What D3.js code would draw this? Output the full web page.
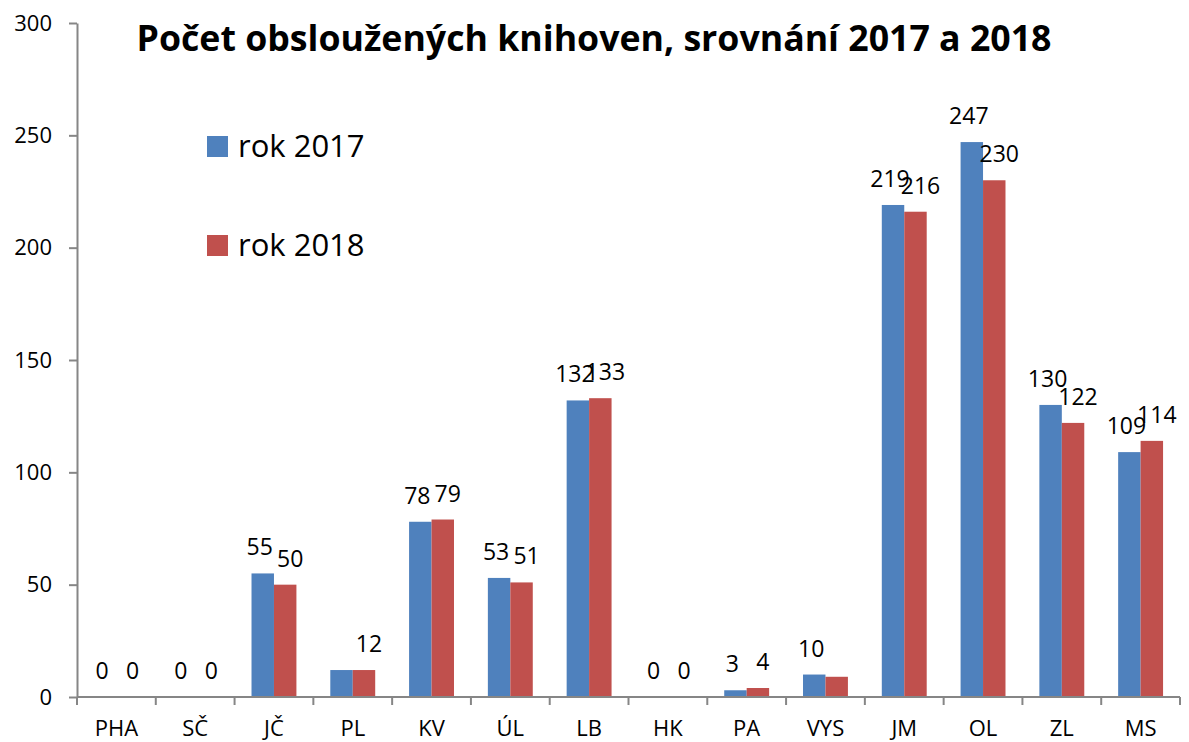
<!DOCTYPE html>
<html>
<head>
<meta charset="utf-8">
<script src="https://cdn.jsdelivr.net/npm/d3@7"></script>
<style>
  body { margin: 0; background: #fff; }
  text { font-family: "Open Sans", sans-serif; fill: #000; }
</style>
</head>
<body>
<div id="content"></div>
<script>
var width = 1189, height = 742

// data
var categories = ['PHA', 'SČ', 'JČ', 'PL', 'KV', 'ÚL', 'LB', 'HK', 'PA', 'VYS', 'JM', 'OL', 'ZL', 'MS']
var series = ['rok 2017', 'rok 2018']
var values2017 = [0, 0, 55, 12, 78, 53, 132, 0, 3, 10, 219, 247, 130, 109]
var values2018 = [0, 0, 50, 12, 79, 51, 133, 0, 4, 9, 216, 230, 122, 114]
var yTicks = [0, 50, 100, 150, 200, 250, 300]
var colors = ['#4F81BD', '#C0504D']
// labels Excel left out because they overlapped
var hiddenLabels = [['PL', 'rok 2017'], ['VYS', 'rok 2018']]
var title = 'Počet obsloužených knihoven, srovnání 2017 a 2018'

var rows = categories.map((c, i) => ({ cat: c, vals: [values2017[i], values2018[i]] }))

var margin = { left: 77, right: 9, top: 23, bottom: 45 }

var svg = d3.select('#content')
    .append('svg')
    .attr('width', width)
    .attr('height', height)

var x0 = d3.scaleBand()
    .domain(categories)
    .range([margin.left, width - margin.right])

var x1 = d3.scaleBand()
    .domain(series)
    .range([x0.bandwidth() * 0.215, x0.bandwidth() * 0.785])

var y = d3.scaleLinear()
    .domain([0, 300])
    .range([height - margin.bottom, margin.top])

// bars
var group = svg.append('g')
    .selectAll('g')
    .data(rows)
    .join('g')
    .attr('transform', d => `translate(${x0(d.cat)},0)`)

group.selectAll('rect')
    .data(d => d.vals.map((v, i) => ({ cat: d.cat, s: series[i], v: v, i: i })))
    .join('rect')
    .attr('x', d => x1(d.s))
    .attr('width', x1.bandwidth())
    .attr('y', d => y(d.v))
    .attr('height', d => y(0) - y(d.v))
    .attr('fill', d => colors[d.i])

// data labels, pushed slightly apart so neighbours overlap less
group.selectAll('text')
    .data(d => d.vals.map((v, i) => ({ cat: d.cat, s: series[i], v: v, i: i }))
        .filter(e => !hiddenLabels.some(h => h[0] === e.cat && h[1] === e.s)))
    .join('text')
    .attr('x', d => x1(d.s) + x1.bandwidth() / 2 + (d.i === 0 ? -3 : 5))
    .attr('y', d => y(d.v) - 18)
    .attr('text-anchor', 'middle')
    .style('font-size', '23px')
    .text(d => d.v)

// y axis
var yAxis = svg.append('g')
    .attr('transform', `translate(${margin.left},0)`)
    .call(d3.axisLeft(y).tickValues(yTicks).tickSize(8).tickPadding(17).tickSizeOuter(0))
yAxis.select('.domain').attr('stroke', '#868686').attr('stroke-width', 2)
yAxis.selectAll('.tick line').attr('stroke', '#868686').attr('stroke-width', 2)
yAxis.selectAll('.tick text')
    .style('font-size', '22px')
    .style('font-family', '"Open Sans", sans-serif')
    .attr('fill', '#000')

// x axis with ticks between categories
var xAxis = svg.append('g')
    .attr('transform', `translate(0,${y(0)})`)
xAxis.append('line')
    .attr('x1', margin.left).attr('x2', width - margin.right)
    .attr('stroke', '#868686').attr('stroke-width', 2)
xAxis.selectAll('.sep')
    .data(categories.concat(['end']))
    .join('line')
    .attr('class', 'sep')
    .attr('x1', (d, i) => i < categories.length ? x0(d) : x0.range()[1])
    .attr('x2', (d, i) => i < categories.length ? x0(d) : x0.range()[1])
    .attr('y1', 0).attr('y2', 8)
    .attr('stroke', '#868686').attr('stroke-width', 2)
xAxis.selectAll('.cat')
    .data(categories)
    .join('text')
    .attr('class', 'cat')
    .attr('x', d => x0(d) + x0.bandwidth() / 2)
    .attr('y', 39)
    .attr('text-anchor', 'middle')
    .style('font-size', '22px')
    .text(d => d)

// legend
var legend = svg.append('g')
    .selectAll('g')
    .data(series)
    .join('g')
    .attr('transform', (d, i) => `translate(207,${136 + i * 99})`)
legend.append('rect')
    .attr('width', 21).attr('height', 21)
    .attr('fill', (d, i) => colors[i])
legend.append('text')
    .attr('x', 31).attr('y', 21)
    .style('font-size', '31px')
    .text(d => d)

// title
svg.append('text')
    .attr('x', 594)
    .attr('y', 51)
    .attr('text-anchor', 'middle')
    .attr('textLength', 915)
    .attr('lengthAdjust', 'spacingAndGlyphs')
    .style('font-size', '35px')
    .style('font-weight', 'bold')
    .text(title)
</script>
</body>
</html>
